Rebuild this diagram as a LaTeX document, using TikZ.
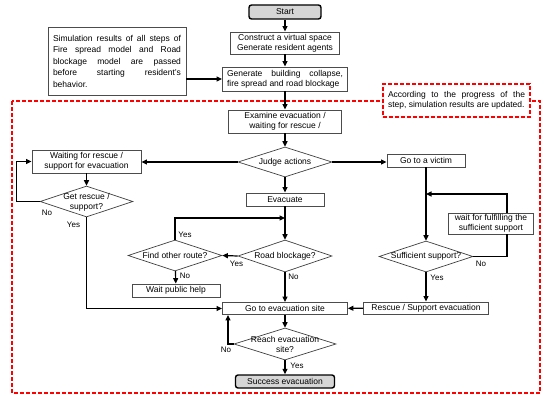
\documentclass[tikz,border=0pt]{standalone}
\usepackage{fontspec}
\setmainfont{Liberation Sans}
\usetikzlibrary{shapes.geometric,arrows.meta}
\begin{document}
\begin{tikzpicture}[x=1pt,y=-1pt,
  font=\fontsize{8.5}{10}\selectfont,
  box/.style={draw=black!70, line width=0.8pt, fill=white, inner sep=1pt, align=center, minimum height=13pt},
  term/.style={draw=black, line width=1.4pt, fill=black!16, rounded corners=2.5pt, inner sep=1pt, minimum height=14pt},
  dec/.style={diamond, draw=black!75, line width=0.7pt, fill=white, inner sep=0pt},
  dtext/.style={align=center, inner sep=0pt},
  conn/.style={draw=black, line width=1.2pt, -{Triangle[length=5.5pt,width=5pt]}},
  plain/.style={draw=black, line width=1.2pt},
  lbl/.style={inner sep=0pt, font=\fontsize{8}{9}\selectfont},
  reddash/.style={draw=red, line width=1.2pt, dash pattern=on 4pt off 2pt}
]
\useasboundingbox (0,0) rectangle (550,404);

% big dashed frame and annotation
\draw[reddash] (12,101) rectangle (540,393);
\node[reddash, fill=white, minimum width=147pt, minimum height=33pt, inner sep=0pt, align=left] (anno) at (456.5,100.5)
  {\makebox[137pt][s]{According to the progress of the}\\step, simulation results are updated.};

% top part
\node[term, minimum width=72pt] (start) at (285,12) {Start};
\node[box, minimum width=109pt, minimum height=22pt] (construct) at (285,43) {Construct a virtual space\\Generate resident agents};
\node[box, minimum width=125pt, minimum height=24pt, align=left] (generate) at (285,79)
  {\makebox[116pt][s]{Generate building collapse,}\\fire spread and road blockage};
\node[box, minimum width=138pt, minimum height=68pt, align=left, inner sep=0pt,
      font=\fontsize{8.5}{11.5}\selectfont] (note) at (117,61)
  {\makebox[128pt][s]{Simulation results of all steps of}\\
   \makebox[128pt][s]{Fire spread model and Road}\\
   \makebox[128pt][s]{blockage model are passed}\\
   \makebox[128pt][s]{before starting resident's}\\
   \makebox[128pt][l]{behavior.}};

\node[box, minimum width=113pt, minimum height=23pt] (examine) at (285,121.5) {Examine evacuation /\\waiting for rescue /};
\node[dec, minimum width=94pt, minimum height=30pt] (judge) at (285,162) {};
\node[dtext] (judget) at (judge) {Judge actions};

% left column
\node[box, minimum width=109pt, minimum height=23pt] (waiting) at (86.5,161.5) {Waiting for rescue /\\support for evacuation};
\node[dec, minimum width=93pt, minimum height=31pt] (getres) at (86.5,201.5) {};
\node[dtext] (getrest) at (86.5,202) {Get rescue /\\support?};

% middle column
\node[box, minimum width=78pt] (evacuate) at (285,199.5) {Evacuate};
\node[dec, minimum width=94pt, minimum height=32pt] (road) at (285,256) {};
\node[dtext] (roadt) at (road) {Road blockage?};
\node[dec, minimum width=94pt, minimum height=31pt] (route) at (175,255.5) {};
\node[dtext] (routet) at (route) {Find other route?};
\node[box, minimum width=88pt] (waitpub) at (176,290.5) {Wait public help};
\node[box, minimum width=125pt, minimum height=12pt] (goevac) at (285,308.5) {Go to evacuation site};
\node[dec, minimum width=102pt, minimum height=32pt] (reach) at (285,344) {};
\node[dtext] (reacht) at (285,344.5) {Reach evacuation\\site?};
\node[term, minimum width=99pt, minimum height=13pt] (success) at (285,381.5) {Success evacuation};

% right column
\node[box, minimum width=78pt] (victim) at (426,160.5) {Go to a victim};
\node[box, minimum width=85pt, minimum height=21pt] (waitfull) at (491,223.5) {wait for fulfilling the\\sufficient support};
\node[dec, minimum width=94pt, minimum height=31pt] (suff) at (426,256.5) {};
\node[dtext] (sufft) at (suff) {Sufficient support?};
\node[box, minimum width=125pt, minimum height=12pt] (rescue) at (426,308) {Rescue / Support evacuation};

\coordinate (m1) at (285,218);
\coordinate (m2) at (426,194);
\coordinate (r1) at (507,234);
\coordinate (r2) at (507,213);

% connectors
\draw[conn] (start) -- (construct);
\draw[conn] (construct) -- (generate);
\draw[conn] (generate.west -| note.east) -- (generate.west);
\draw[conn] (generate) -- (examine);
\draw[conn] (examine) -- (judge);
\draw[conn] (judge.west) -- (judge.west -| waiting.east);
\draw[conn] (judge.east) -- (judge.east -| victim.west);
\draw[conn] (waiting) -- (getres);
\draw[conn] (getres.west) -- ++(-23,0) |- (waiting.west);
\draw[conn] (getres.south) |- (goevac.west);
\draw[conn] (judge) -- (evacuate);
\draw[conn] (evacuate) -- (road);
\draw[conn] (road.west) -- (route.east);
\draw[conn] (route.north) |- (m1);
\draw[conn] (route) -- (waitpub);
\draw[conn] (road) -- (goevac);
\draw[conn] (goevac) -- (reach);
\draw[conn] (reach.west) -| ([xshift=-57pt]goevac.south);
\draw[conn] (reach) -- (success);
\draw[conn] (victim) -- (suff);
\draw[plain] (suff.east) -| (r1);
\draw[conn] (r2) |- (m2);
\draw[conn] (suff) -- (rescue);
\draw[conn] (rescue) -- (goevac);

% labels
\node[lbl] (l1) at (47,213) {No};
\node[lbl] (l2) at (73.5,225) {Yes};
\node[lbl] (l3) at (185,235) {Yes};
\node[lbl] (l4) at (236.5,263.5) {Yes};
\node[lbl] (l5) at (185,276) {No};
\node[lbl] (l6) at (293.5,277) {No};
\node[lbl] (l7) at (481,264) {No};
\node[lbl] (l8) at (437,278) {Yes};
\node[lbl] (l9) at (226,350) {No};
\node[lbl] (l10) at (297,366) {Yes};
\end{tikzpicture}
\end{document}
